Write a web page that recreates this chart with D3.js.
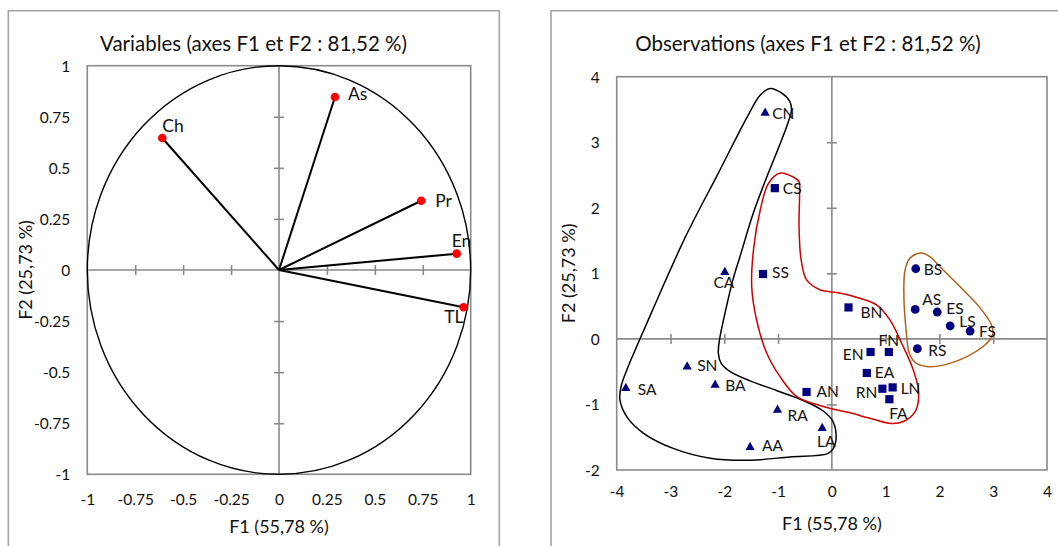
<!DOCTYPE html>
<html><head><meta charset="utf-8">
<script src="https://cdn.jsdelivr.net/npm/d3@7"></script>
<style>
body{margin:0;background:#fff}
svg{display:block}
text{font-family:Lato,"Open Sans",sans-serif;fill:#111}
</style>
</head><body>
<svg id="c" width="1058" height="546"></svg>
<script>
// ---------- Variables chart data ----------
const varNames = ["Ch", "As", "Pr", "En", "TL"];
const varF1 = [-0.609, 0.292, 0.742, 0.927, 0.963];
const varF2 = [0.646, 0.847, 0.339, 0.080, -0.182];
const varTicks = [-1, -0.75, -0.5, -0.25, 0, 0.25, 0.5, 0.75, 1];

// ---------- Observations chart data ----------
const obsNames = ["CN","CA","SN","SA","BA","RA","AA","LA",
                  "CS","SS","AN","BN","FN","EN","EA","RN","LN","FA",
                  "BS","AS","ES","LS","FS","RS"];
const obsF1 = [-1.24,-1.99,-2.69,-3.83,-2.17,-1.01,-1.52,-0.18,
               -1.06,-1.28,-0.47,0.31,1.06,0.72,0.65,0.94,1.13,1.07,
               1.56,1.55,1.96,2.20,2.57,1.59];
const obsF2 = [3.46,1.03,-0.41,-0.74,-0.69,-1.07,-1.64,-1.35,
               2.30,0.99,-0.81,0.48,-0.20,-0.20,-0.52,-0.76,-0.74,-0.92,
               1.07,0.45,0.41,0.20,0.12,-0.15];
const obsGroup = ["tri","tri","tri","tri","tri","tri","tri","tri",
                  "sq","sq","sq","sq","sq","sq","sq","sq","sq","sq",
                  "ci","ci","ci","ci","ci","ci"];
const obsTicksX = [-4, -3, -2, -1, 0, 1, 2, 3, 4];
const obsTicksY = [-2, -1, 0, 1, 2, 3, 4];

// hand-drawn group outlines (data coordinates)
const hullBlackF1 = [-1.149,-0.93,-0.78,-0.75,-0.81,-0.96,-1.21,-1.46,-1.71,-1.84,-1.96,-2.09,-2.11,-2.06,-1.89,-1.52,-1.02,-0.53,-0.16,0.02,0.08,0.03,-0.08,-0.78,-1.52,-2.26,-2.95,-3.50,-3.81,-3.94,-3.92,-3.81,-3.63,-3.36,-2.72,-2.11,-1.57,-1.33];
const hullBlackF2 = [3.82,3.75,3.62,3.49,3.31,2.98,2.47,1.92,1.25,0.90,0.49,-0.02,-0.22,-0.37,-0.50,-0.64,-0.79,-0.94,-1.10,-1.26,-1.49,-1.67,-1.75,-1.80,-1.85,-1.82,-1.67,-1.44,-1.19,-0.93,-0.73,-0.47,-0.12,0.39,1.56,2.53,3.39,3.72];
const hullRedF1 = [-0.96,-0.72,-0.61,-0.60,-0.61,-0.57,-0.47,-0.22,0.15,0.52,0.83,1.08,1.30,1.49,1.60,1.61,1.55,1.33,1.11,0.71,0.30,-0.16,-0.65,-0.96,-1.21,-1.40,-1.49,-1.45,-1.33,-1.18];
const hullRedF2 = [2.53,2.47,2.40,2.22,1.71,1.20,0.90,0.75,0.70,0.62,0.52,0.29,-0.07,-0.42,-0.73,-0.93,-1.11,-1.26,-1.29,-1.21,-1.12,-1.03,-0.88,-0.58,-0.22,0.29,0.80,1.41,1.97,2.37];
const hullBrownF1 = [1.67,1.83,2.01,2.38,2.76,2.97,2.99,2.85,2.51,2.07,1.76,1.55,1.44,1.38,1.34,1.36,1.45,1.58];
const hullBrownF2 = [1.31,1.25,1.10,0.80,0.47,0.21,0.06,-0.09,-0.27,-0.40,-0.42,-0.36,-0.22,0.14,0.64,1.05,1.23,1.30];

// ---------- label placement (pixels, not data) ----------
const varLabelPos = [[0,-12,"start"],[13,-3,"start"],[14,0,"start"],[-5,-13,"start"],[0,10,"end"]];
const obsLabelPos = [[7,1,"start"],[-1,11,"middle"],[10,0,"start"],[12,2,"start"],[10,1,"start"],[10,7,"start"],[12,-1,"start"],[4,14,"middle"],
  [8,0,"start"],[9,-1,"start"],[10,0,"start"],[12,5,"start"],[0,-11,"middle"],[-7,3,"end"],[8,0,"start"],[-5,4,"end"],[8,1,"start"],[9,14,"middle"],
  [8,1,"start"],[7,-10,"start"],[9,-3,"start"],[9,-4,"start"],[9,1,"start"],[11,2,"start"]];

const svg = d3.select("#c");
const GRAY = "#8a8a8a";

function chartFrame(x0, y0, x1, y1, title, tx) {
  svg.append("rect").attr("x", x0).attr("y", y0).attr("width", x1 - x0).attr("height", y1 - y0)
    .attr("fill", "none").attr("stroke", "#a3a3a3").attr("stroke-width", 1.6);
  svg.append("text").attr("x", tx).attr("y", 44).attr("dy", "0.35em")
    .attr("text-anchor", "middle").style("font-size", "20.5px").text(title);
}

function axes(g, x, y, xt, yt, xLabOff, xTitleY, yTitleOff) {
  const [L, R] = x.range(), [B, T] = y.range();
  g.append("rect").attr("x", L).attr("y", T).attr("width", R - L).attr("height", B - T)
    .attr("fill", "none").attr("stroke", GRAY).attr("stroke-width", 1.6);
  g.append("line").attr("x1", L).attr("x2", R).attr("y1", y(0)).attr("y2", y(0)).attr("stroke", GRAY).attr("stroke-width", 1.6);
  g.append("line").attr("x1", x(0)).attr("x2", x(0)).attr("y1", T).attr("y2", B).attr("stroke", GRAY).attr("stroke-width", 1.6);
  const inX = xt.filter((d, i) => d !== 0 && i > 0 && i < xt.length - 1);
  const inY = yt.filter((d, i) => d !== 0 && i > 0 && i < yt.length - 1);
  const tx = g.append("g").attr("transform", `translate(0,${y(0) - 5})`)
    .call(d3.axisBottom(x).tickValues(inX).tickSize(10).tickFormat(""));
  const ty = g.append("g").attr("transform", `translate(${x(0) + 5},0)`)
    .call(d3.axisLeft(y).tickValues(inY).tickSize(10).tickFormat(""));
  [tx, ty].forEach(a => { a.select(".domain").remove(); a.selectAll("line").attr("stroke", GRAY).attr("stroke-width", 1.6); });
  const lx = g.append("g").attr("transform", `translate(0,${B})`)
    .call(d3.axisBottom(x).tickValues(xt).tickSize(0).tickFormat(d => String(d)));
  lx.select(".domain").remove();
  lx.selectAll("text").attr("y", xLabOff).attr("dy", "0.35em").attr("fill", "#111")
    .style("font-size", "15.5px").style("font-family", "Lato");
  const ly = g.append("g").attr("transform", `translate(${L},0)`)
    .call(d3.axisLeft(y).tickValues(yt).tickSize(0).tickFormat(d => String(d)));
  ly.select(".domain").remove();
  ly.selectAll("text").attr("x", -17).attr("dy", "0.35em").attr("fill", "#111")
    .style("font-size", "15.5px").style("font-family", "Lato");
  g.append("text").attr("x", (L + R) / 2).attr("y", xTitleY).attr("dy", "0.35em")
    .attr("text-anchor", "middle").style("font-size", "18px").text("F1 (55,78 %)");
  g.append("text").attr("transform", `translate(${L - yTitleOff},${(T + B) / 2}) rotate(-90)`).attr("dy", "0.35em")
    .attr("text-anchor", "middle").style("font-size", "18px").text("F2 (25,73 %)");
}

// ---------------- Left: variables ----------------
chartFrame(8.3, 10.7, 499.3, 560, "Variables (axes F1 et F2 : 81,52 %)", 253.5);
const gL = svg.append("g");
const xL = d3.scaleLinear().domain([-1, 1]).range([87.3, 470.7]);
const yL = d3.scaleLinear().domain([-1, 1]).range([474.3, 65.7]);
axes(gL, xL, yL, varTicks, varTicks, 25, 527, 62);
gL.append("ellipse").attr("cx", xL(0)).attr("cy", yL(0))
  .attr("rx", xL(1) - xL(0)).attr("ry", yL(0) - yL(1))
  .attr("fill", "none").attr("stroke", "#000").attr("stroke-width", 1.4);
varNames.forEach((n, i) => {
  gL.append("line").attr("x1", xL(0)).attr("y1", yL(0)).attr("x2", xL(varF1[i])).attr("y2", yL(varF2[i]))
    .attr("stroke", "#000").attr("stroke-width", 2);
});
varNames.forEach((n, i) => {
  gL.append("circle").attr("cx", xL(varF1[i])).attr("cy", yL(varF2[i])).attr("r", 4.3).attr("fill", "#ff0000");
  const p = varLabelPos[i];
  gL.append("text").attr("x", xL(varF1[i]) + p[0]).attr("y", yL(varF2[i]) + p[1]).attr("dy", "0.35em")
    .attr("text-anchor", p[2]).style("font-size", "17.5px").text(n);
});

// ---------------- Right: observations ----------------
chartFrame(551, 10.7, 1066, 560, "Observations (axes F1 et F2 : 81,52 %)", 808);
const gR = svg.append("g");
const xR = d3.scaleLinear().domain([-4, 4]).range([616.7, 1047]);
const yR = d3.scaleLinear().domain([-2, 4]).range([470, 76.7]);
axes(gR, xR, yR, obsTicksX, obsTicksY, 22, 524, 48);

const hull = d3.line().x(d => xR(d[0])).y(d => yR(d[1])).curve(d3.curveCatmullRomClosed.alpha(0.5));
[[hullBlackF1, hullBlackF2, "#000"], [hullRedF1, hullRedF2, "#d00000"], [hullBrownF1, hullBrownF2, "#b0601a"]]
  .forEach(([a, b, c]) => {
    gR.append("path").attr("d", hull(a.map((v, i) => [v, b[i]])))
      .attr("fill", "none").attr("stroke", c).attr("stroke-width", 1.5);
  });

const NAVY = "#000080";
obsNames.forEach((n, i) => {
  const cx = xR(obsF1[i]), cy = yR(obsF2[i]);
  const s = obsGroup[i];
  if (s === "tri") gR.append("path").attr("d", "M0,-4.6L4.6,3.6L-4.6,3.6Z").attr("transform", `translate(${cx},${cy})`).attr("fill", NAVY);
  else if (s === "sq") gR.append("rect").attr("x", cx - 4.1).attr("y", cy - 4.1).attr("width", 8.2).attr("height", 8.2).attr("fill", NAVY);
  else gR.append("circle").attr("cx", cx).attr("cy", cy).attr("r", 4.4).attr("fill", NAVY);
  const p = obsLabelPos[i];
  gR.append("text").attr("x", cx + p[0]).attr("y", cy + p[1]).attr("dy", "0.35em")
    .attr("text-anchor", p[2]).style("font-size", "15.5px").text(n);
});
</script>
</body></html>
